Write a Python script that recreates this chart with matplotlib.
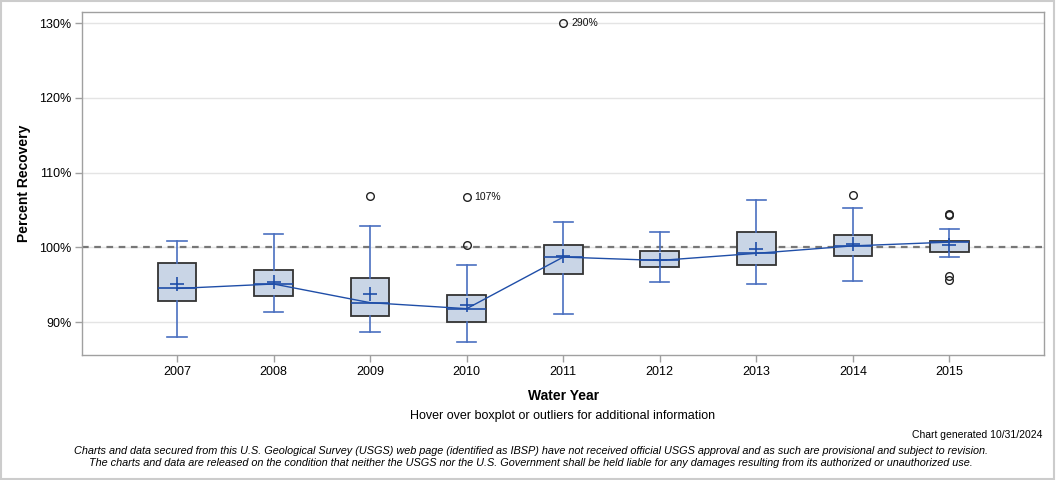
import matplotlib.pyplot as plt
import numpy as np

plt.rcParams['font.family'] = ['Liberation Sans', 'DejaVu Sans']

years = ['2007', '2008', '2009', '2010', '2011', '2012', '2013', '2014', '2015']
whislo = [88.0, 91.3, 88.65, 87.4, 91.1, 95.35, 95.1, 95.55, 98.7]
q1 = [92.8, 93.5, 90.8, 90.0, 96.4, 97.4, 97.6, 98.8, 99.35]
med = [94.5, 95.1, 92.6, 91.8, 98.7, 98.25, 99.2, 100.2, 100.7]
q3 = [97.9, 96.95, 95.9, 93.6, 100.25, 99.5, 102.1, 101.6, 100.8]
whishi = [100.9, 101.8, 102.8, 97.6, 103.4, 102.0, 106.35, 105.3, 102.4]
means = [95.1, 95.4, 93.8, 92.35, 98.9, 98.3, 99.8, 100.4, 100.3]
outliers = [[], [], [106.9], [106.8, 100.3], [290.0], [], [], [107.0], [104.35, 104.5, 96.2, 95.65]]
# labelled outliers: (year index, value, label)
outlier_labels = [(3, 106.8, '107%'), (4, 290.0, '290%')]
ymax_show = 130.0

box_fill = '#c9d5e6'
box_edge = '#333333'
blue = '#1f4ea8'
whisk = '#4a70c0'

fig = plt.figure(figsize=(10.56, 4.80), dpi=100)
ax = fig.add_axes([0.0781, 0.2604, 0.9105, 0.7156])

pos = np.arange(len(years))
stats = []
for i in range(len(years)):
    stats.append(dict(whislo=whislo[i], q1=q1[i], med=med[i], q3=q3[i],
                      whishi=whishi[i], fliers=[]))

ax.bxp(stats, positions=pos, widths=0.4, patch_artist=True, showfliers=False,
       boxprops=dict(facecolor=box_fill, edgecolor=box_edge, linewidth=1.3),
       medianprops=dict(color=blue, linewidth=1.2),
       whiskerprops=dict(color=whisk, linewidth=1.2),
       capprops=dict(color=whisk, linewidth=1.2),
       capwidths=0.2, zorder=3)

ax.plot(pos, med, color=blue, linewidth=1.0, zorder=4)
ax.plot(pos, means, linestyle='none', marker='+', markersize=10, markeredgewidth=1.2,
        color=blue, zorder=5)

for i, vals in enumerate(outliers):
    for v in vals:
        ax.plot(pos[i], min(v, ymax_show), marker='o', markersize=5.5, markerfacecolor='none',
                markeredgecolor='#222222', markeredgewidth=1.0, linestyle='none', zorder=5)
for i, v, lab in outlier_labels:
    ax.text(pos[i] + 0.08, min(v, ymax_show), lab, fontsize=7.5, va='center', ha='left',
            color='#111111', zorder=6)

ax.axhline(100, color='#777777', linestyle=(0, (3, 2.5)), linewidth=1.6, zorder=2)

ax.set_xlim(-0.98, 8.98)
ax.set_ylim(85.6, 131.55)
ax.set_yticks([90, 100, 110, 120, 130])
ax.set_yticklabels(['90%', '100%', '110%', '120%', '130%'])
ax.set_xticks(pos)
ax.set_xticklabels(years)
ax.yaxis.grid(True, color='#e4e4e4', linewidth=1.0, zorder=0)
ax.set_axisbelow(True)
ax.tick_params(axis='both', labelsize=9, color='#a0a0a0', length=5, width=1, pad=3)
for s in ax.spines.values():
    s.set_color('#a0a0a0')
    s.set_linewidth(1.0)

ax.set_xlabel('Water Year', fontsize=10, fontweight='bold', labelpad=8)
ax.set_ylabel('Percent Recovery', fontsize=10, fontweight='bold', labelpad=6)

fig.text(0.533, 0.133, 'Hover over boxplot or outliers for additional information',
         ha='center', va='center', fontsize=9)
fig.text(0.987, 0.094, 'Chart generated 10/31/2024', ha='right', va='center', fontsize=7.5)
fig.text(0.503, 0.060, 'Charts and data secured from this U.S. Geological Survey (USGS) web page '
         '(identified as IBSP) have not received official USGS approval and as such are provisional '
         'and subject to revision.', ha='center', va='center', fontsize=7.8, style='italic')
fig.text(0.503, 0.035, 'The charts and data are released on the condition that neither the USGS nor '
         'the U.S. Government shall be held liable for any damages resulting from its authorized or '
         'unauthorized use.', ha='center', va='center', fontsize=7.8, style='italic')

border = plt.Rectangle((0.001, 0.002), 0.997, 0.995, transform=fig.transFigure,
                       fill=False, edgecolor='#cccccc', linewidth=1.5)
fig.patches.append(border)

fig.savefig('out.png', dpi=100)
